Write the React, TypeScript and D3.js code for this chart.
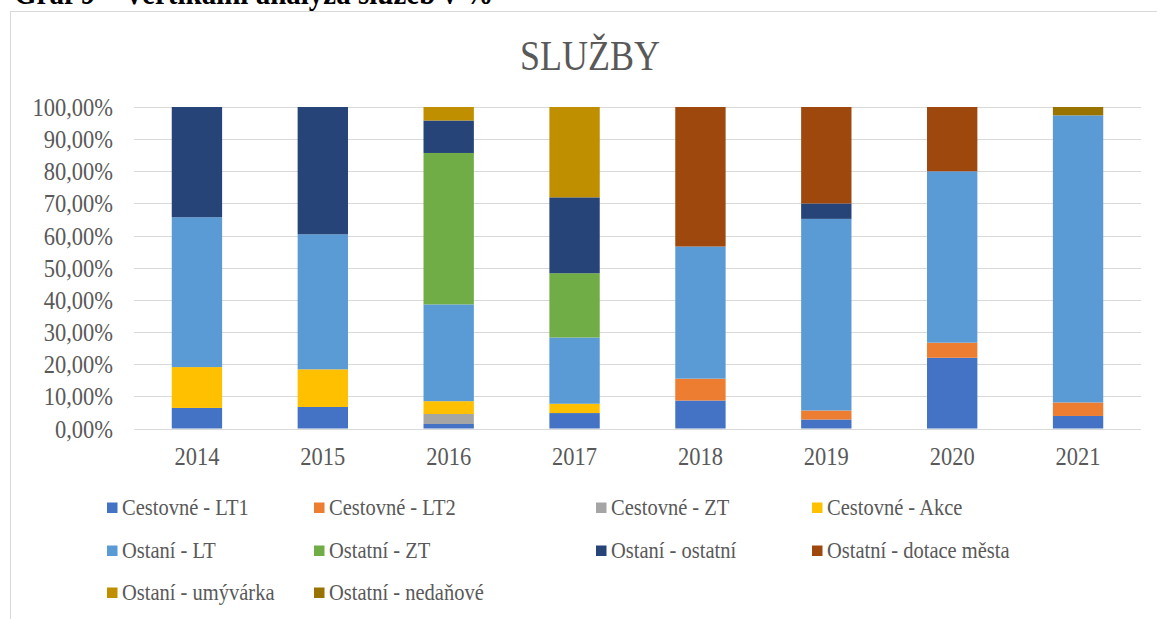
import React from 'react';
import * as d3 from 'd3';

const years = ['2014', '2015', '2016', '2017', '2018', '2019', '2020', '2021'];
const cestovneLT1 = [6.4, 6.7, 1.4, 4.8, 8.7, 2.8, 22.0, 3.9];
const cestovneLT2 = [0, 0, 0, 0, 6.8, 2.8, 4.7, 4.2];
const cestovneZT = [0, 0, 3.1, 0, 0, 0, 0, 0];
const cestovneAkce = [12.7, 11.7, 4.0, 2.9, 0, 0, 0, 0];
const ostaniLT = [46.6, 42.0, 30.1, 20.6, 41.1, 59.6, 53.3, 89.3];
const ostatniZT = [0, 0, 47.1, 20.0, 0, 0, 0, 0];
const ostaniOstatni = [34.3, 39.6, 10.1, 23.6, 0, 4.8, 0, 0];
const ostatniDotace = [0, 0, 0, 0, 43.4, 30.0, 20.0, 0];
const ostaniUmyvarka = [0, 0, 4.2, 28.1, 0, 0, 0, 0];
const ostatniNedanove = [0, 0, 0, 0, 0, 0, 0, 2.6];

const seriesNames = [
  'Cestovné - LT1', 'Cestovné - LT2', 'Cestovné - ZT', 'Cestovné - Akce',
  'Ostaní - LT', 'Ostatní - ZT', 'Ostaní - ostatní', 'Ostatní - dotace města',
  'Ostaní - umývárka', 'Ostatní - nedaňové',
];
const seriesValues = [
  cestovneLT1, cestovneLT2, cestovneZT, cestovneAkce, ostaniLT,
  ostatniZT, ostaniOstatni, ostatniDotace, ostaniUmyvarka, ostatniNedanove,
];
const colors = [
  '#4472C4', '#ED7D31', '#A5A5A5', '#FFC000', '#5B9BD5',
  '#70AD47', '#264478', '#9E480E', '#BF8F00', '#997300',
];
const yTicks = [0, 10, 20, 30, 40, 50, 60, 70, 80, 90, 100];

const W = 1157, H = 619;
const plot = { left: 134, right: 1141, top: 107, bottom: 428.5 };
const FONT = '"Liberation Serif", "Times New Roman", serif';
const TXT = '#595959';
const SY = 1.15;

function T({ x, y, children, ...rest }: any) {
  return (
    <text transform={`translate(${x},${y}) scale(1,${SY})`} {...rest}>{children}</text>
  );
}

export default function App() {
  const x = d3.scaleBand<string>().domain(years).range([plot.left, plot.right]).paddingInner(0.6).paddingOuter(0.3);
  const y = d3.scaleLinear().domain([0, 100]).range([plot.bottom, plot.top]);
  const table = years.map((yr, i) => {
    const row: any = { year: yr };
    seriesNames.forEach((n, k) => { row[n] = seriesValues[k][i]; });
    return row;
  });
  const stacked = d3.stack<any>().keys(seriesNames)(table);
  const fmt = (v: number) => d3.format('.2f')(v).replace('.', ',') + '%';

  const legendCols = [107, 314, 596, 812];
  const legendRows = [515, 558, 600];

  return (
    <svg width={W} height={H} style={{ position: 'absolute', left: 0, top: 0, background: '#fff' }} fontFamily={FONT}>
      <T x={14} y={4} fontSize={29} fontWeight="bold" fill="#000">Graf 9 – Vertikální analýza služeb v %</T>
      <rect x={10.5} y={11.5} width={W} height={H} fill="none" stroke="#D9D9D9" strokeWidth={1} />
      <T x={590} y={70} fontSize={36} fill={TXT} textAnchor="middle">SLUŽBY</T>
      {yTicks.map(t => (
        <g key={t}>
          <line x1={plot.left} x2={plot.right} y1={Math.round(y(t)) + 0.5} y2={Math.round(y(t)) + 0.5} stroke="#D9D9D9" strokeWidth={1.2} />
          <T x={113} y={y(t) + 9} fontSize={22.5} fill={TXT} textAnchor="end">{fmt(t)}</T>
        </g>
      ))}
      {stacked.map((s, k) => (
        <g key={s.key} fill={colors[k]}>
          {s.map((d, i) => (d[1] - d[0] > 0 ? (
            <rect key={i} x={x(years[i])} width={x.bandwidth()} y={y(d[1])} height={y(d[0]) - y(d[1])} />
          ) : null))}
        </g>
      ))}
      {years.map(yr => (
        <T key={yr} x={(x(yr) as number) + x.bandwidth() / 2} y={465} fontSize={22.5} fill={TXT} textAnchor="middle">{yr}</T>
      ))}
      {seriesNames.map((n, k) => {
        const cx = legendCols[k % 4];
        const cy = legendRows[Math.floor(k / 4)];
        return (
          <g key={n}>
            <rect x={cx} y={cy - 12.5} width={10.5} height={10.5} fill={colors[k]} />
            <T x={cx + 15} y={cy} fontSize={20.5} fill={TXT}>{n}</T>
          </g>
        );
      })}
    </svg>
  );
}
